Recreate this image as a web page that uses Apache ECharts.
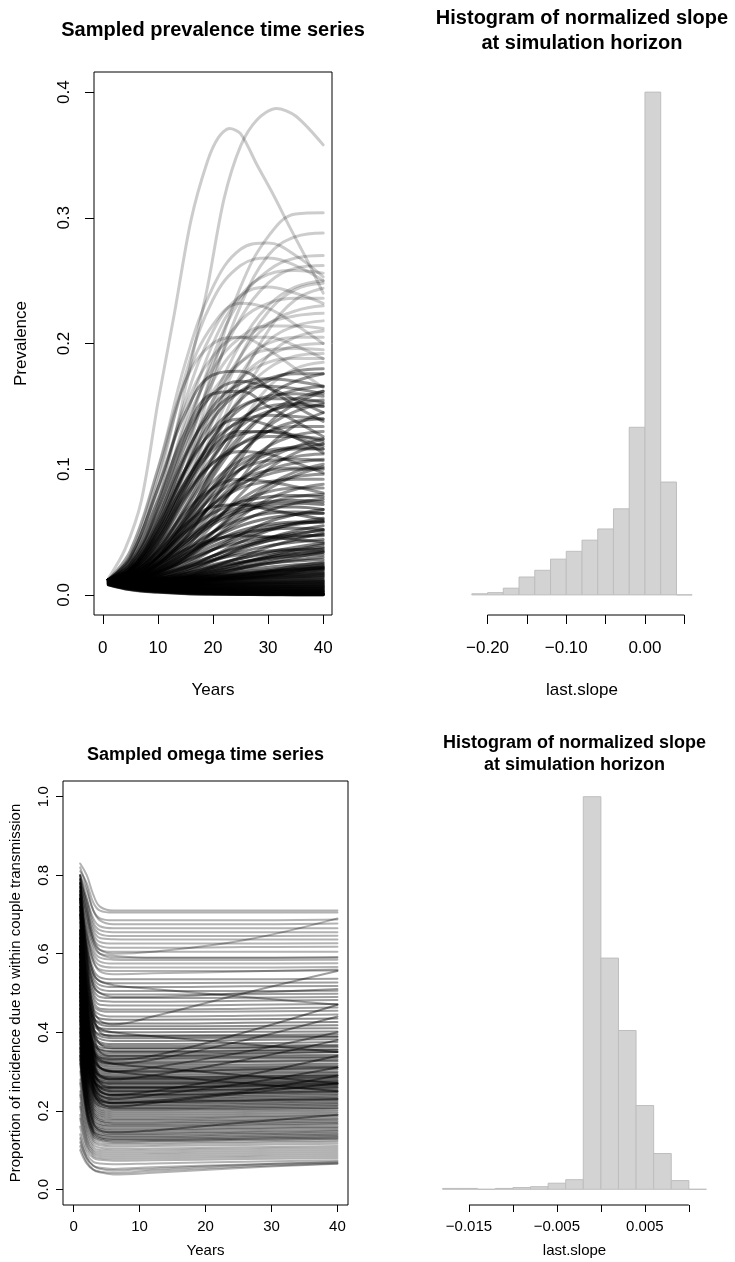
<!DOCTYPE html>
<html>
<head>
<meta charset="utf-8">
<script src="https://cdn.jsdelivr.net/npm/echarts@6/dist/echarts.min.js"></script>
<style>
  html, body { margin: 0; padding: 0; background: #fff; }
  #chart { width: 735px; height: 1262px; }
</style>
</head>
<body>
<div id="chart"></div>
<script>
// ---- Sampled prevalence runs (value at each year in prevYears) ----
const prevYears = [1, 5, 10, 15, 20, 25, 30, 35, 40];
const prevXLim = [0, 40];
const prevYLim = [0, 0.4];
const prevXTicks = [0, 10, 20, 30, 40];
const prevYTicks = [0, 0.1, 0.2, 0.3, 0.4];

// the two fastest epidemics, as [year, prevalence] pairs sampled around their peaks
const prevPeakEarly = [[1,.013],[4,.036],[7,.075],[10,.153],[13,.224],[16,.298],[19,.345],[21,.364],[23,.371],[25,.367],[28,.342],[31,.318],[34,.292],[37,.267],[40,.240]];
const prevPeakLate = [[1,.012],[4,.020],[7,.037],[10,.072],[13,.125],[16,.185],[19,.245],[22,.315],[25,.357],[28,.378],[31.5,.387],[35,.381],[40,.358]];

const prevHigh = [
  [.012,.020,.050,.110,.180,.245,.285,.303,.304],
  [.012,.018,.045,.100,.170,.230,.270,.285,.288],
  [.012,.035,.100,.185,.245,.275,.280,.270,.253],
  [.012,.022,.060,.125,.190,.235,.258,.268,.270],
  [.012,.030,.090,.175,.235,.262,.268,.262,.250],
  [.012,.020,.055,.115,.175,.220,.248,.260,.262],
  [.012,.025,.070,.140,.200,.238,.255,.258,.256],
  [.012,.018,.040,.085,.140,.190,.225,.243,.248],
  [.012,.028,.080,.155,.210,.238,.245,.240,.232],
  [.012,.020,.050,.100,.155,.200,.230,.245,.250],
  [.012,.016,.035,.070,.120,.170,.210,.235,.244],
  [.012,.024,.065,.130,.185,.218,.232,.236,.236],
  [.012,.032,.095,.170,.215,.232,.228,.215,.200],
  [.012,.019,.048,.095,.150,.190,.215,.226,.230],
  [.012,.022,.060,.120,.170,.200,.216,.222,.224],
  [.012,.017,.040,.080,.130,.175,.202,.214,.218],
  [.012,.026,.072,.135,.180,.205,.214,.214,.212],
  [.012,.015,.032,.065,.110,.155,.190,.205,.210],
  [.012,.021,.055,.108,.155,.185,.200,.205,.205],
  [.012,.018,.045,.090,.138,.172,.190,.198,.200],
  [.012,.035,.100,.170,.200,.205,.195,.180,.165],
  [.012,.024,.066,.120,.162,.185,.195,.196,.195],
  [.012,.016,.038,.075,.120,.158,.180,.190,.192],
  [.012,.020,.052,.100,.145,.172,.185,.188,.188],
  [.012,.030,.085,.150,.190,.205,.205,.198,.188],
  [.012,.014,.028,.055,.095,.135,.165,.180,.185]
];

const prevMid = [
  [.012,.018,.044,.085,.125,.155,.170,.178,.180],
  [.012,.015,.030,.060,.100,.135,.158,.170,.176],
  [.012,.022,.058,.110,.150,.168,.172,.170,.166],
  [.012,.016,.036,.070,.108,.138,.155,.163,.166],
  [.012,.013,.024,.045,.075,.108,.136,.152,.162],
  [.012,.019,.046,.088,.125,.148,.158,.160,.158],
  [.012,.025,.068,.125,.160,.170,.165,.155,.145],
  [.012,.015,.032,.062,.098,.127,.145,.152,.155],
  [.012,.017,.040,.076,.110,.134,.146,.150,.150],
  [.012,.012,.020,.037,.062,.092,.118,.135,.145],
  [.012,.020,.050,.090,.122,.138,.143,.142,.140],
  [.012,.014,.028,.054,.086,.113,.130,.138,.140],
  [.012,.016,.036,.068,.100,.120,.130,.134,.134],
  [.012,.028,.075,.130,.160,.162,.150,.138,.126],
  [.012,.013,.024,.046,.075,.100,.118,.127,.130],
  [.012,.018,.042,.078,.105,.120,.126,.126,.124],
  [.012,.012,.019,.034,.056,.080,.100,.113,.120],
  [.012,.015,.031,.058,.086,.104,.113,.116,.116],
  [.012,.022,.056,.100,.130,.140,.135,.125,.113],
  [.012,.013,.026,.048,.072,.092,.104,.110,.112],
  [.012,.016,.034,.060,.085,.100,.107,.108,.107],
  [.012,.011,.018,.031,.050,.070,.087,.098,.104],
  [.012,.014,.028,.050,.072,.088,.096,.100,.100],
  [.012,.019,.045,.080,.105,.114,.112,.105,.097],
  [.012,.012,.021,.038,.058,.076,.088,.094,.096],
  [.012,.015,.030,.052,.072,.085,.090,.092,.092],
  [.012,.011,.016,.028,.045,.062,.076,.084,.088],
  [.012,.013,.024,.042,.060,.074,.082,.085,.085],
  [.012,.017,.038,.066,.085,.092,.090,.086,.081],
  [.012,.012,.020,.034,.050,.064,.073,.078,.080],
  [.012,.030,.085,.145,.175,.178,.165,.150,.138],
  [.012,.020,.052,.100,.140,.162,.172,.176,.176],
  [.012,.024,.062,.112,.146,.162,.166,.164,.160],
  [.012,.014,.030,.058,.094,.124,.145,.156,.162],
  [.012,.021,.054,.098,.132,.150,.156,.156,.153],
  [.012,.017,.042,.082,.118,.140,.150,.152,.150],
  [.012,.013,.026,.050,.082,.112,.134,.146,.152],
  [.012,.019,.047,.086,.115,.128,.130,.127,.122],
  [.012,.014,.029,.053,.080,.100,.112,.118,.120],
  [.012,.016,.035,.063,.090,.107,.115,.117,.116],
  [.012,.012,.022,.041,.066,.090,.108,.118,.124],
  [.012,.020,.050,.090,.118,.130,.130,.125,.118],
  [.012,.013,.025,.045,.068,.087,.099,.105,.108],
  [.012,.015,.031,.055,.078,.092,.099,.101,.101],
  [.012,.011,.017,.030,.049,.068,.084,.095,.102]
];

const prevLowMid = [
  [.012,.012,.018,.030,.045,.058,.067,.073,.076],
  [.012,.014,.025,.042,.058,.068,.072,.073,.072],
  [.012,.011,.015,.024,.036,.048,.058,.064,.068],
  [.012,.013,.022,.036,.050,.060,.065,.066,.065],
  [.012,.016,.034,.056,.070,.072,.068,.064,.060],
  [.012,.011,.014,.021,.031,.042,.051,.057,.061],
  [.012,.012,.019,.030,.042,.051,.056,.058,.058],
  [.012,.010,.012,.018,.027,.037,.045,.051,.055],
  [.012,.013,.021,.033,.043,.049,.052,.053,.052],
  [.012,.011,.015,.022,.031,.039,.045,.049,.051],
  [.012,.010,.011,.015,.022,.030,.038,.044,.049],
  [.012,.012,.018,.027,.036,.042,.046,.047,.047],
  [.012,.011,.014,.020,.027,.034,.039,.042,.044],
  [.012,.014,.024,.036,.044,.047,.046,.044,.042],
  [.012,.010,.011,.014,.019,.025,.031,.036,.040],
  [.012,.011,.013,.018,.024,.029,.033,.036,.038],
  [.012,.012,.016,.022,.028,.032,.035,.036,.036],
  [.012,.010,.010,.012,.016,.021,.026,.030,.034],
  [.012,.011,.013,.017,.022,.026,.029,.031,.032],
  [.012,.010,.011,.013,.017,.021,.025,.028,.030],
  [.012,.011,.012,.015,.019,.022,.025,.027,.028],
  [.012,.010,.010,.011,.013,.016,.019,.023,.026],
  [.012,.011,.012,.014,.017,.020,.022,.024,.025],
  [.012,.010,.010,.011,.013,.015,.018,.021,.024],
  [.012,.011,.011,.013,.015,.018,.020,.022,.023],
  [.012,.010,.010,.010,.012,.014,.016,.019,.022],
  [.012,.011,.011,.012,.014,.016,.018,.020,.021],
  [.012,.010,.009,.010,.011,.013,.015,.018,.020],
  [.012,.015,.030,.050,.065,.074,.078,.079,.078],
  [.012,.013,.023,.040,.056,.066,.070,.070,.068],
  [.012,.013,.020,.032,.045,.055,.061,.064,.065],
  [.012,.012,.017,.026,.036,.045,.052,.056,.059],
  [.012,.011,.014,.020,.028,.036,.043,.048,.052],
  [.012,.012,.016,.023,.031,.038,.043,.046,.048],
  [.012,.011,.013,.017,.023,.029,.034,.038,.041],
  [.012,.011,.012,.015,.020,.025,.030,.034,.037],
  [.012,.014,.026,.044,.060,.070,.074,.075,.074],
  [.012,.012,.018,.028,.039,.048,.054,.057,.058],
  [.012,.010,.011,.014,.018,.023,.028,.032,.035],
  [.012,.011,.013,.016,.021,.026,.030,.033,.034]
];

const prevLow = [
  [.0080,.0040,.0020,.0010,.0005,.0003,.0002,.0001,.0001],
  [.0082,.0043,.0023,.0012,.0007,.0004,.0002,.0002,.0001],
  [.0084,.0046,.0026,.0015,.0009,.0005,.0003,.0002,.0002],
  [.0086,.0049,.0029,.0018,.0011,.0007,.0005,.0004,.0003],
  [.0088,.0052,.0032,.0021,.0014,.0010,.0007,.0006,.0005],
  [.0090,.0055,.0035,.0024,.0017,.0013,.0010,.0008,.0007],
  [.0091,.0058,.0038,.0027,.0020,.0016,.0013,.0011,.0010],
  [.0092,.0060,.0041,.0030,.0024,.0019,.0016,.0014,.0013],
  [.0093,.0062,.0044,.0033,.0027,.0023,.0020,.0018,.0017],
  [.0094,.0064,.0047,.0037,.0031,.0027,.0024,.0022,.0021],
  [.0095,.0066,.0050,.0040,.0034,.0031,.0028,.0027,.0026],
  [.0096,.0068,.0053,.0044,.0038,.0035,.0033,.0032,.0031],
  [.0097,.0070,.0056,.0047,.0042,.0039,.0038,.0037,.0036],
  [.0098,.0072,.0059,.0051,.0046,.0044,.0043,.0042,.0042],
  [.0099,.0074,.0062,.0055,.0051,.0049,.0048,.0048,.0048],
  [.0100,.0076,.0065,.0058,.0055,.0054,.0054,.0054,.0055],
  [.0101,.0078,.0068,.0062,.0060,.0059,.0060,.0061,.0062],
  [.0102,.0080,.0071,.0066,.0064,.0064,.0065,.0067,.0069],
  [.0103,.0082,.0074,.0070,.0069,.0070,.0071,.0073,.0076],
  [.0104,.0084,.0077,.0074,.0074,.0075,.0077,.0080,.0083],
  [.0105,.0086,.0080,.0078,.0078,.0080,.0083,.0087,.0091],
  [.0106,.0088,.0083,.0082,.0083,.0086,.0090,.0094,.0099],
  [.0107,.0090,.0086,.0086,.0088,.0092,.0097,.0102,.0107],
  [.0108,.0092,.0089,.0090,.0093,.0098,.0104,.0110,.0116],
  [.0109,.0094,.0092,.0094,.0098,.0104,.0111,.0118,.0125],
  [.0110,.0096,.0095,.0098,.0104,.0111,.0119,.0127,.0135],
  [.0111,.0098,.0098,.0102,.0109,.0118,.0127,.0136,.0145],
  [.0112,.0100,.0101,.0107,.0115,.0125,.0135,.0145,.0155],
  [.0113,.0102,.0105,.0112,.0122,.0133,.0144,.0155,.0166],
  [.0114,.0104,.0108,.0117,.0128,.0140,.0153,.0165,.0177],
  [.0115,.0106,.0112,.0122,.0135,.0149,.0163,.0177,.0190],
  [.0116,.0108,.0116,.0128,.0143,.0158,.0174,.0189,.0204],
  [.0083,.0047,.0027,.0016,.0010,.0007,.0005,.0004,.0004],
  [.0089,.0056,.0037,.0026,.0019,.0015,.0012,.0011,.0010],
  [.0093,.0063,.0046,.0036,.0030,.0026,.0024,.0023,.0023],
  [.0097,.0069,.0054,.0045,.0040,.0037,.0035,.0034,.0034],
  [.0100,.0075,.0063,.0056,.0052,.0050,.0049,.0049,.0050],
  [.0103,.0081,.0072,.0067,.0065,.0065,.0066,.0068,.0070],
  [.0106,.0087,.0081,.0079,.0079,.0081,.0084,.0087,.0090],
  [.0109,.0093,.0091,.0092,.0095,.0100,.0106,.0112,.0118],
  [.0112,.0099,.0100,.0105,.0113,.0122,.0132,.0142,.0152],
  [.0115,.0105,.0110,.0120,.0132,.0145,.0158,.0171,.0183],
  [.0118,.0110,.0118,.0132,.0148,.0165,.0181,.0196,.0210],
  [.0085,.0050,.0030,.0019,.0013,.0009,.0007,.0006,.0005],
  [.0091,.0059,.0040,.0029,.0022,.0018,.0015,.0013,.0012],
  [.0095,.0065,.0049,.0039,.0033,.0030,.0028,.0027,.0027],
  [.0099,.0073,.0060,.0052,.0048,.0046,.0045,.0045,.0045],
  [.0102,.0079,.0069,.0064,.0062,.0062,.0063,.0064,.0066],
  [.0105,.0085,.0079,.0076,.0076,.0077,.0079,.0082,.0085],
  [.0108,.0091,.0088,.0088,.0090,.0094,.0099,.0104,.0109],
  [.0111,.0097,.0097,.0101,.0107,.0115,.0123,.0131,.0139],
  [.0114,.0103,.0106,.0114,.0125,.0137,.0149,.0161,.0172],
  [.0120,.0114,.0124,.0140,.0158,.0176,.0193,.0209,.0224],
  [.0081,.0042,.0022,.0012,.0006,.0004,.0003,.0002,.0002],
  [.0087,.0053,.0034,.0023,.0016,.0012,.0009,.0008,.0007],
  [.0096,.0067,.0051,.0042,.0036,.0033,.0031,.0030,.0030],
  [.0101,.0077,.0066,.0060,.0057,.0056,.0056,.0057,.0058],
  [.0107,.0089,.0084,.0083,.0085,.0088,.0092,.0097,.0102],
  [.0113,.0101,.0103,.0110,.0119,.0129,.0140,.0151,.0162],
  [.0119,.0112,.0121,.0136,.0153,.0171,.0188,.0203,.0218]
];

// ---- Sampled omega runs (value at each year in omegaYears) ----
const omegaYears = [1, 2, 3, 4, 6, 12, 26, 40];
const omegaXLim = [0, 40];
const omegaYLim = [0, 1];
const omegaXTicks = [0, 10, 20, 30, 40];
const omegaYTicks = [0, 0.2, 0.4, 0.6, 0.8, 1.0];

const omegaUpper = [
  [.83,.80,.75,.72,.71,.71,.71,.71],
  [.81,.78,.73,.71,.705,.705,.705,.705],
  [.80,.76,.71,.69,.685,.685,.685,.687],
  [.82,.77,.71,.685,.675,.675,.675,.677],
  [.79,.74,.69,.67,.665,.665,.665,.665],
  [.80,.74,.68,.66,.655,.655,.655,.655],
  [.78,.73,.67,.65,.645,.645,.645,.646],
  [.79,.72,.66,.64,.637,.636,.636,.636],
  [.77,.71,.65,.63,.626,.626,.626,.627],
  [.78,.70,.64,.62,.615,.615,.617,.618],
  [.76,.69,.63,.61,.605,.605,.605,.605],
  [.77,.68,.62,.60,.595,.59,.59,.592],
  [.75,.67,.61,.59,.585,.584,.584,.585],
  [.74,.65,.60,.58,.575,.575,.575,.576],
  [.76,.66,.59,.57,.565,.565,.565,.566],
  [.73,.64,.58,.56,.556,.556,.556,.557],
  [.80,.72,.64,.61,.60,.605,.635,.69],
  [.74,.65,.58,.555,.548,.55,.555,.56],
  [.78,.70,.63,.60,.59,.59,.59,.59]
];

const omegaMidUpper = [
  [.75,.63,.56,.54,.535,.535,.535,.536],
  [.72,.62,.55,.53,.525,.525,.526,.527],
  [.74,.61,.54,.52,.515,.515,.517,.518],
  [.71,.60,.53,.51,.505,.505,.505,.506],
  [.73,.59,.52,.50,.496,.496,.497,.498],
  [.70,.58,.51,.49,.487,.487,.488,.49],
  [.72,.57,.50,.48,.478,.478,.48,.482],
  [.70,.55,.46,.43,.42,.44,.50,.556],
  [.69,.56,.49,.47,.468,.468,.47,.472],
  [.71,.55,.48,.46,.458,.458,.46,.463],
  [.68,.54,.47,.455,.452,.452,.453,.455],
  [.70,.53,.46,.445,.44,.44,.442,.445],
  [.74,.62,.55,.53,.52,.51,.49,.47],
  [.72,.60,.52,.50,.49,.49,.50,.51]
];

const omegaMid = [
  [.68,.52,.45,.435,.432,.432,.433,.435],
  [.66,.51,.44,.425,.422,.422,.424,.426],
  [.70,.52,.44,.42,.415,.415,.416,.418],
  [.65,.50,.43,.41,.408,.408,.409,.41],
  [.67,.49,.42,.405,.40,.40,.401,.402],
  [.64,.48,.41,.395,.392,.392,.393,.395],
  [.66,.49,.41,.39,.385,.385,.386,.388],
  [.63,.47,.40,.383,.378,.378,.38,.382],
  [.65,.47,.395,.375,.37,.37,.372,.375],
  [.62,.46,.39,.37,.365,.365,.366,.368],
  [.64,.46,.38,.362,.358,.358,.36,.362],
  [.61,.45,.375,.357,.352,.352,.354,.356],
  [.63,.45,.37,.35,.346,.346,.348,.35],
  [.60,.43,.35,.325,.32,.33,.38,.44],
  [.62,.44,.36,.335,.33,.34,.40,.47],
  [.66,.50,.43,.41,.40,.39,.37,.35],
  [.60,.44,.37,.355,.35,.35,.352,.355],
  [.58,.42,.34,.31,.30,.31,.35,.40],
  [.61,.44,.365,.345,.34,.34,.341,.343]
];

const omegaCore = [
  [.60,.43,.36,.34,.336,.336,.337,.338],
  [.58,.42,.355,.335,.332,.332,.333,.335],
  [.62,.43,.35,.33,.326,.326,.327,.33],
  [.57,.41,.345,.325,.322,.322,.324,.326],
  [.59,.41,.34,.32,.317,.317,.318,.32],
  [.56,.40,.335,.315,.312,.312,.313,.315],
  [.60,.41,.33,.31,.307,.307,.309,.311],
  [.55,.39,.325,.305,.302,.302,.304,.306],
  [.58,.40,.32,.30,.297,.297,.299,.30],
  [.54,.38,.315,.295,.292,.292,.294,.296],
  [.57,.39,.31,.29,.287,.287,.289,.291],
  [.53,.37,.305,.285,.282,.282,.284,.286],
  [.56,.38,.30,.28,.277,.277,.279,.281],
  [.52,.36,.295,.277,.273,.273,.275,.277],
  [.55,.37,.295,.273,.268,.268,.27,.272],
  [.51,.35,.29,.27,.264,.264,.266,.268],
  [.54,.36,.285,.265,.26,.26,.262,.264],
  [.50,.345,.28,.26,.255,.255,.257,.26],
  [.53,.35,.28,.257,.251,.251,.253,.256],
  [.49,.335,.275,.253,.247,.247,.249,.252],
  [.52,.34,.27,.249,.243,.243,.245,.248],
  [.48,.33,.265,.245,.239,.239,.241,.244],
  [.51,.33,.26,.24,.235,.235,.237,.24],
  [.47,.32,.26,.237,.231,.231,.233,.236],
  [.50,.32,.255,.233,.227,.227,.229,.232],
  [.46,.31,.25,.229,.223,.223,.225,.228],
  [.49,.31,.245,.225,.219,.219,.221,.224],
  [.45,.30,.24,.221,.215,.215,.217,.22],
  [.48,.30,.235,.217,.211,.211,.213,.216],
  [.44,.29,.23,.213,.207,.207,.209,.212],
  [.47,.29,.225,.21,.204,.204,.206,.208],
  [.55,.36,.27,.24,.23,.24,.27,.31],
  [.52,.34,.26,.23,.22,.225,.25,.29],
  [.58,.38,.28,.25,.24,.25,.29,.34],
  [.60,.42,.35,.33,.32,.31,.29,.27],
  [.56,.40,.33,.31,.30,.29,.27,.25],
  [.50,.33,.25,.22,.21,.22,.245,.27],
  [.62,.40,.31,.29,.285,.285,.287,.29],
  [.64,.41,.30,.275,.27,.27,.272,.275],
  [.46,.30,.245,.225,.22,.222,.226,.23],
  [.66,.45,.33,.29,.28,.29,.33,.38],
  [.54,.35,.28,.262,.258,.258,.262,.266]
];

const omegaLowMid = [
  [.43,.28,.22,.205,.20,.20,.202,.205],
  [.42,.27,.215,.20,.195,.195,.197,.20],
  [.45,.28,.21,.195,.19,.19,.192,.195],
  [.41,.26,.205,.19,.185,.185,.187,.19],
  [.44,.27,.20,.185,.18,.18,.183,.186],
  [.40,.25,.195,.18,.176,.176,.178,.181],
  [.43,.26,.19,.176,.171,.171,.174,.177],
  [.38,.24,.185,.172,.167,.167,.17,.173],
  [.41,.25,.18,.167,.163,.163,.166,.169],
  [.37,.23,.175,.163,.159,.159,.162,.165],
  [.39,.24,.17,.158,.154,.154,.157,.16],
  [.36,.22,.165,.154,.15,.15,.153,.156],
  [.38,.22,.16,.149,.145,.145,.148,.151],
  [.34,.21,.155,.145,.141,.141,.144,.147],
  [.36,.21,.15,.14,.137,.137,.14,.143],
  [.33,.20,.148,.137,.133,.133,.136,.139],
  [.35,.20,.145,.133,.129,.129,.132,.135],
  [.32,.19,.14,.13,.126,.126,.129,.132],
  [.34,.19,.135,.126,.122,.123,.126,.129],
  [.40,.24,.17,.15,.145,.15,.17,.19]
];

const omegaLow = [
  [.30,.18,.13,.122,.118,.119,.122,.125],
  [.28,.17,.125,.117,.114,.115,.118,.121],
  [.27,.16,.12,.112,.109,.11,.113,.116],
  [.25,.15,.113,.106,.103,.104,.107,.11],
  [.24,.14,.107,.10,.098,.099,.102,.105],
  [.22,.13,.10,.095,.093,.094,.097,.10],
  [.21,.125,.095,.09,.088,.089,.092,.095],
  [.19,.115,.09,.085,.083,.084,.087,.09],
  [.18,.11,.085,.08,.078,.079,.082,.085],
  [.16,.10,.08,.075,.073,.074,.077,.08],
  [.14,.09,.07,.066,.064,.066,.07,.074],
  [.12,.08,.06,.055,.052,.056,.063,.068],
  [.10,.065,.05,.045,.042,.047,.058,.066],
  [.11,.07,.05,.043,.038,.042,.055,.065],
  [.13,.08,.06,.052,.048,.052,.062,.07]
];

const omegaSteep = [
  [.80,.60,.45,.40,.39,.39,.39,.39],
  [.78,.55,.40,.35,.34,.34,.345,.35],
  [.76,.52,.36,.31,.30,.30,.305,.31],
  [.74,.48,.32,.27,.26,.26,.265,.27],
  [.79,.58,.42,.37,.36,.36,.362,.365],
  [.77,.50,.33,.285,.28,.28,.282,.285],
  [.72,.45,.29,.25,.24,.24,.245,.25],
  [.75,.47,.30,.26,.25,.25,.255,.26]
];

// ---- Histograms of the normalized slope at the last year ----
const slopeBreaksTop = [-0.22,-0.20,-0.18,-0.16,-0.14,-0.12,-0.10,-0.08,-0.06,-0.04,-0.02,0,0.02,0.04,0.06];
const slopeCountsTop = [1,2,6,16,22,32,39,49,59,77,150,450,101,0];
const slopeTicksTop = [-0.20,-0.15,-0.10,-0.05,0,0.05];
const slopeLabelsTop = [-0.20,-0.10,0];

const slopeBreaksBottom = [-0.018,-0.016,-0.014,-0.012,-0.010,-0.008,-0.006,-0.004,-0.002,0,0.002,0.004,0.006,0.008,0.010,0.012];
const slopeCountsBottom = [1,1,0,1,2,3,7,11,450,265,182,96,41,10,0];
const slopeTicksBottom = [-0.015,-0.010,-0.005,0,0.005,0.010];
const slopeLabelsBottom = [-0.015,-0.005,0.005];

// ---- drawing ----
const FONT = 'Liberation Sans, Arial, Helvetica, sans-serif';

// R-style axis range: data limits padded by 4% on each side
function padRange(lo, hi) {
  const d = (hi - lo) * 0.04;
  return [lo - d, hi + d];
}
function fmtSigned(v, digits) {
  const s = Math.abs(v).toFixed(digits);
  return (v < -1e-12 ? '\u2212' : '') + s;
}

function valueAxis(gridIndex, lim, ticks, labels, opts) {
  const r = padRange(lim[0], lim[1]);
  return {
    gridIndex, type: 'value', min: r[0], max: r[1],
    axisLine: { show: false, onZero: false },
    splitLine: { show: false },
    axisTick: { show: true, customValues: ticks, length: opts.tick, inside: false,
                lineStyle: { color: '#000', width: 1 } },
    axisLabel: { show: true, customValues: labels, color: '#000', fontFamily: FONT,
                 fontSize: opts.font, margin: opts.margin, rotate: opts.rotate || 0,
                 formatter: v => fmtSigned(v, opts.digits) }
  };
}

function lineRun(points, axisIndex, alpha, width, smooth) {
  return {
    type: 'line', xAxisIndex: axisIndex, yAxisIndex: axisIndex,
    data: points,
    symbol: 'none', showSymbol: false, smooth, silent: true,
    emphasis: { disabled: true },
    lineStyle: { color: 'rgba(0,0,0,' + alpha + ')', width, cap: 'round', join: 'round' },
    z: 2
  };
}

function runSeries(runs, years, axisIndex, alpha, width) {
  return runs.map(r => lineRun(years.map((t, i) => [t, r[i]]), axisIndex, alpha, width, 0.4));
}

function histSeries(breaks, counts, axisIndex) {
  return {
    type: 'custom', xAxisIndex: axisIndex, yAxisIndex: axisIndex, silent: true, clip: false,
    data: counts.map((c, i) => [breaks[i], breaks[i + 1], c]),
    encode: { x: [0, 1], y: 2 },
    renderItem: (params, api) => {
      const p0 = api.coord([api.value(0), 0]);
      const p1 = api.coord([api.value(1), api.value(2)]);
      return {
        type: 'rect',
        shape: { x: p0[0], y: p1[1], width: p1[0] - p0[0], height: p0[1] - p1[1] },
        style: { fill: '#d3d3d3', stroke: '#bebebe', lineWidth: 1 }
      };
    }
  };
}

// R draws the histogram x axis only between its first and last tick
function axisBaseline(ticks, yBottom, axisIndex) {
  return {
    type: 'line', xAxisIndex: axisIndex, yAxisIndex: axisIndex, silent: true, clip: false,
    symbol: 'none', data: [[ticks[0], yBottom], [ticks[ticks.length - 1], yBottom]],
    lineStyle: { color: '#000', width: 1 }, z: 3
  };
}

function text(str, x, y, size, bold, rotation) {
  return {
    type: 'text', x, y, rotation: rotation || 0, silent: true,
    style: {
      text: str, fill: '#000', font: (bold ? 'bold ' : '') + size + 'px ' + FONT,
      textAlign: 'center', textVerticalAlign: 'middle', align: 'center', verticalAlign: 'middle'
    }
  };
}

const topMax = Math.max(...slopeCountsTop);
const bottomMax = Math.max(...slopeCountsBottom);
const topYRange = padRange(0, topMax);
const bottomYRange = padRange(0, bottomMax);

const option = {
  animation: false,
  backgroundColor: '#fff',
  grid: [
    { left: 94, top: 72, width: 238, height: 543, show: true, borderColor: '#000', borderWidth: 1, containLabel: false, outerBoundsMode: 'none' },
    { left: 463, top: 72, width: 238, height: 543, containLabel: false, outerBoundsMode: 'none' },
    { left: 63, top: 781, width: 285, height: 424, show: true, borderColor: '#000', borderWidth: 1, containLabel: false, outerBoundsMode: 'none' },
    { left: 432, top: 781, width: 285, height: 424, containLabel: false, outerBoundsMode: 'none' }
  ],
  xAxis: [
    valueAxis(0, prevXLim, prevXTicks, prevXTicks, { tick: 9, font: 17, margin: 25, digits: 0 }),
    valueAxis(1, [slopeBreaksTop[0], slopeBreaksTop[slopeBreaksTop.length - 1]], slopeTicksTop, slopeLabelsTop,
              { tick: 9, font: 17, margin: 25, digits: 2 }),
    valueAxis(2, omegaXLim, omegaXTicks, omegaXTicks, { tick: 7, font: 15, margin: 14, digits: 0 }),
    valueAxis(3, [slopeBreaksBottom[0], slopeBreaksBottom[slopeBreaksBottom.length - 1]], slopeTicksBottom, slopeLabelsBottom,
              { tick: 7, font: 15, margin: 14, digits: 3 })
  ],
  yAxis: [
    valueAxis(0, prevYLim, prevYTicks, prevYTicks, { tick: 9, font: 17, margin: 21, digits: 1, rotate: 90 }),
    { gridIndex: 1, type: 'value', show: false, min: topYRange[0], max: topYRange[1] },
    valueAxis(2, omegaYLim, omegaYTicks, omegaYTicks, { tick: 7, font: 15, margin: 12, digits: 1, rotate: 90 }),
    { gridIndex: 3, type: 'value', show: false, min: bottomYRange[0], max: bottomYRange[1] }
  ],
  series: [
    ...runSeries(prevLow, prevYears, 0, 0.4, 3),
    ...runSeries(prevLowMid, prevYears, 0, 0.5, 3),
    ...runSeries(prevMid, prevYears, 0, 0.42, 3),
    ...runSeries(prevHigh, prevYears, 0, 0.2, 3),
    lineRun(prevPeakEarly, 0, 0.2, 3, 0.3),
    lineRun(prevPeakLate, 0, 0.2, 3, 0.3),
    histSeries(slopeBreaksTop, slopeCountsTop, 1),
    axisBaseline(slopeTicksTop, topYRange[0], 1),
    ...runSeries(omegaUpper, omegaYears, 2, 0.3, 2),
    ...runSeries(omegaMidUpper, omegaYears, 2, 0.38, 2),
    ...runSeries(omegaMid, omegaYears, 2, 0.45, 2),
    ...runSeries(omegaCore, omegaYears, 2, 0.5, 2),
    ...runSeries(omegaLowMid, omegaYears, 2, 0.45, 2),
    ...runSeries(omegaLow, omegaYears, 2, 0.3, 2),
    ...runSeries(omegaSteep, omegaYears, 2, 0.45, 2),
    histSeries(slopeBreaksBottom, slopeCountsBottom, 3),
    axisBaseline(slopeTicksBottom, bottomYRange[0], 3)
  ],
  graphic: [
    text('Sampled prevalence time series', 213, 30, 20, true),
    text('Histogram of normalized slope', 582, 18.5, 20, true),
    text('at simulation horizon', 582, 43, 20, true),
    text('Years', 213, 690, 17, false),
    text('last.slope', 582, 690, 17, false),
    text('Prevalence', 21, 343.5, 17, false, Math.PI / 2),
    text('Sampled omega time series', 205.5, 755, 18, true),
    text('Histogram of normalized slope', 574.5, 743.5, 18, true),
    text('at simulation horizon', 574.5, 765.5, 18, true),
    text('Years', 205.5, 1251, 15, false),
    text('last.slope', 574.5, 1251, 15, false),
    text('Proportion of incidence due to within couple transmission', 16, 993, 15, false, Math.PI / 2)
  ]
};

const chart = echarts.init(document.getElementById('chart'), null, { renderer: 'canvas', width: 735, height: 1262 });
chart.setOption(option);
</script>
</body>
</html>
